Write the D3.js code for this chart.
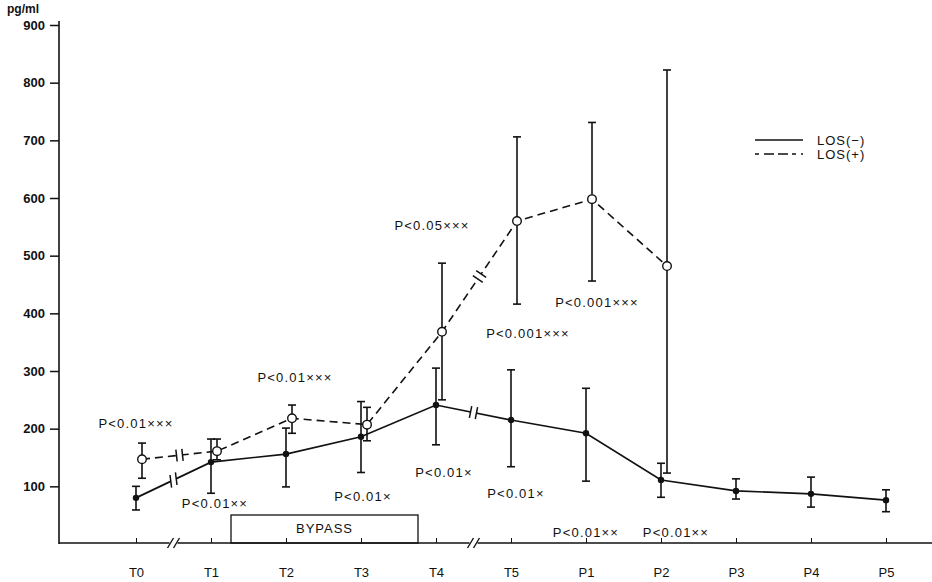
<!DOCTYPE html>
<html>
<head>
<meta charset="utf-8">
<script src="https://cdn.jsdelivr.net/npm/d3@7"></script>
<style>
  body { margin: 0; background: #fff; }
  svg text { font-family: "Liberation Sans", Arial, sans-serif; fill: #111; }
</style>
</head>
<body>
<div id="chart"></div>
<script>
// sampling points along the x axis
const categories = ["T0", "T1", "T2", "T3", "T4", "T5", "P1", "P2", "P3", "P4", "P5"]
const yTicks = [100, 200, 300, 400, 500, 600, 700, 800, 900]

// LOS(-) mean and error bar ends (pg/ml)
const losNegMean = [80, 142, 156, 186, 241, 215, 192, 111, 92, 87, 76]
const losNegLow  = [59, 88, 99, 124, 172, 134, 109, 81, 78, 64, 56]
const losNegHigh = [100, 182, 201, 247, 305, 302, 270, 140, 113, 116, 94]

// LOS(+) only measured up to P2
const losPosMean = [147, 161, 218, 207, 368, 560, 598, 482]
const losPosLow  = [114, 146, 192, 179, 250, 416, 456, 123]
const losPosHigh = [175, 182, 241, 237, 487, 706, 731, 822]

// significance notes: text, category anchor, value anchor
const noteText  = ["P<0.01×××", "P<0.01××", "P<0.01×××", "P<0.01×", "P<0.01×", "P<0.05×××",
                   "P<0.001×××", "P<0.001×××", "P<0.01×", "P<0.01××", "P<0.01××"]
const noteCat   = ["T0", "T1", "T2", "T3", "T4", "T4", "T5", "P1", "T5", "P1", "P2"]
const noteValue = [201, 62, 281, 75, 116, 544, 357, 411, 80, 12, 12]
const noteShift = [0, 4, 9, 2, 8, -4, 17, 11, 5, 0, 15]

const width = 932
const height = 582

var svg = d3.select("#chart")
  .append("svg")
  .attr("width", width)
  .attr("height", height)

var x = d3.scalePoint().domain(categories).range([136, 886])
var y = d3.scaleLinear().domain([0, 900]).range([544, 25])
const plusShift = 6
const ink = "#111"

// y axis
var yAxis = svg.append("g")
  .attr("transform", "translate(59,0)")
  .call(d3.axisLeft(y).tickValues(yTicks).tickSize(9).tickPadding(5).tickFormat(d3.format("d")))
yAxis.select(".domain").remove()
yAxis.selectAll("line").attr("stroke", ink).attr("stroke-width", 1.5)
yAxis.selectAll("text").style("font-size", "13px").style("font-weight", "bold").attr("fill", ink)
svg.append("line")
  .attr("x1", 59).attr("x2", 59)
  .attr("y1", 21).attr("y2", 544)
  .attr("stroke", ink).attr("stroke-width", 1.6)

svg.append("text")
  .attr("x", 7).attr("y", 13)
  .style("font-size", "12px").style("font-weight", "bold")
  .text("pg/ml")

// x axis
var xAxis = svg.append("g")
  .attr("transform", "translate(0,543)")
  .call(d3.axisBottom(x).tickSize(-5).tickPadding(25))
xAxis.select(".domain").remove()
xAxis.selectAll("line").attr("stroke", ink)
xAxis.selectAll("text").style("font-size", "13px").attr("fill", ink)
svg.append("line")
  .attr("x1", 59).attr("x2", width)
  .attr("y1", 543).attr("y2", 543)
  .attr("stroke", ink).attr("stroke-width", 1.4)

// axis break marks between T0-T1 and T4-T5
function axisBreak (cx) {
  svg.append("rect")
    .attr("x", cx - 4).attr("y", 538).attr("width", 8).attr("height", 10)
    .attr("fill", "#fff")
  ;[-3, 3].forEach(o => {
    svg.append("line")
      .attr("x1", cx + o - 3).attr("y1", 548)
      .attr("x2", cx + o + 3).attr("y2", 538)
      .attr("stroke", ink).attr("stroke-width", 1.4)
  })
}
const step = x.step()
axisBreak(x("T0") + step / 2)
axisBreak(x("T4") + step / 2)

// bypass period box
var bx0 = x("T1") + 20
var bx1 = x("T4") - 18
svg.append("rect")
  .attr("x", bx0).attr("y", 515)
  .attr("width", bx1 - bx0).attr("height", 28)
  .attr("fill", "none").attr("stroke", ink).attr("stroke-width", 1.3)
svg.append("text")
  .attr("x", (bx0 + bx1) / 2).attr("y", 533)
  .attr("text-anchor", "middle")
  .style("font-size", "13px").style("letter-spacing", "1px")
  .text("BYPASS")

// build series rows
var negData = losNegMean.map((m, i) => ({
  cat: categories[i], mean: m, low: losNegLow[i], high: losNegHigh[i], px: x(categories[i])
}))
var posData = losPosMean.map((m, i) => ({
  cat: categories[i], mean: m, low: losPosLow[i], high: losPosHigh[i], px: x(categories[i]) + plusShift
}))

function errorBars (data) {
  var g = svg.append("g").attr("stroke", ink).attr("stroke-width", 1.6)
  g.selectAll(".stem").data(data).enter().append("line")
    .attr("x1", d => d.px).attr("x2", d => d.px)
    .attr("y1", d => y(d.low)).attr("y2", d => y(d.high))
  g.selectAll(".capHi").data(data).enter().append("line")
    .attr("x1", d => d.px - 4).attr("x2", d => d.px + 4)
    .attr("y1", d => y(d.high)).attr("y2", d => y(d.high))
  g.selectAll(".capLo").data(data).enter().append("line")
    .attr("x1", d => d.px - 4).attr("x2", d => d.px + 4)
    .attr("y1", d => y(d.low)).attr("y2", d => y(d.low))
}

errorBars(negData)
errorBars(posData)

var line = d3.line().x(d => d.px).y(d => y(d.mean))

svg.append("path")
  .datum(negData)
  .attr("d", line)
  .attr("fill", "none").attr("stroke", ink).attr("stroke-width", 1.7)

svg.append("path")
  .datum(posData)
  .attr("d", line)
  .attr("fill", "none").attr("stroke", ink).attr("stroke-width", 1.6)
  .attr("stroke-dasharray", "8,5")

// break marks on the series lines
function lineBreak (data, i, slant) {
  var a = data[i], b = data[i + 1]
  var x0 = a.px, y0 = y(a.mean), x1 = b.px, y1 = y(b.mean)
  var ang = Math.atan2(y1 - y0, x1 - x0) * 180 / Math.PI
  var g = svg.append("g")
    .attr("transform", `translate(${(x0 + x1) / 2},${(y0 + y1) / 2}) rotate(${ang})`)
  g.append("rect").attr("x", -3).attr("y", -3).attr("width", 6).attr("height", 6).attr("fill", "#fff")
  ;[-3, 3].forEach(o => {
    g.append("line")
      .attr("x1", o - slant).attr("y1", 6)
      .attr("x2", o + slant).attr("y2", -6)
      .attr("stroke", ink).attr("stroke-width", 1.5)
  })
}
lineBreak(negData, 0, 2)
lineBreak(negData, 4, 0)
lineBreak(posData, 0, 0)
lineBreak(posData, 4, 0)

// markers
svg.selectAll(".neg").data(negData).enter().append("circle")
  .attr("cx", d => d.px).attr("cy", d => y(d.mean))
  .attr("r", 3.2).attr("fill", ink)

svg.selectAll(".pos").data(posData).enter().append("circle")
  .attr("cx", d => d.px).attr("cy", d => y(d.mean))
  .attr("r", 4.3).attr("fill", "#fff").attr("stroke", ink).attr("stroke-width", 1.4)

// significance notes
svg.selectAll(".note").data(noteText).enter().append("text")
  .attr("x", (d, i) => x(noteCat[i]) + noteShift[i])
  .attr("y", (d, i) => y(noteValue[i]))
  .attr("text-anchor", "middle")
  .style("font-size", "13px").style("letter-spacing", "1.2px")
  .text(d => d)

// legend
var legend = svg.append("g").attr("transform", "translate(755,140)")
legend.append("line")
  .attr("x1", 0).attr("x2", 48).attr("y1", 0).attr("y2", 0)
  .attr("stroke", ink).attr("stroke-width", 1.6)
legend.append("line")
  .attr("x1", 0).attr("x2", 48).attr("y1", 14).attr("y2", 14)
  .attr("stroke", ink).attr("stroke-width", 1.6).attr("stroke-dasharray", "4,5,10,4,10,4")
legend.append("text").attr("x", 62).attr("y", 4.5)
  .style("font-size", "13px").style("letter-spacing", "1px").text("LOS(−)")
legend.append("text").attr("x", 62).attr("y", 18.5)
  .style("font-size", "13px").style("letter-spacing", "1px").text("LOS(+)")
</script>
</body>
</html>
